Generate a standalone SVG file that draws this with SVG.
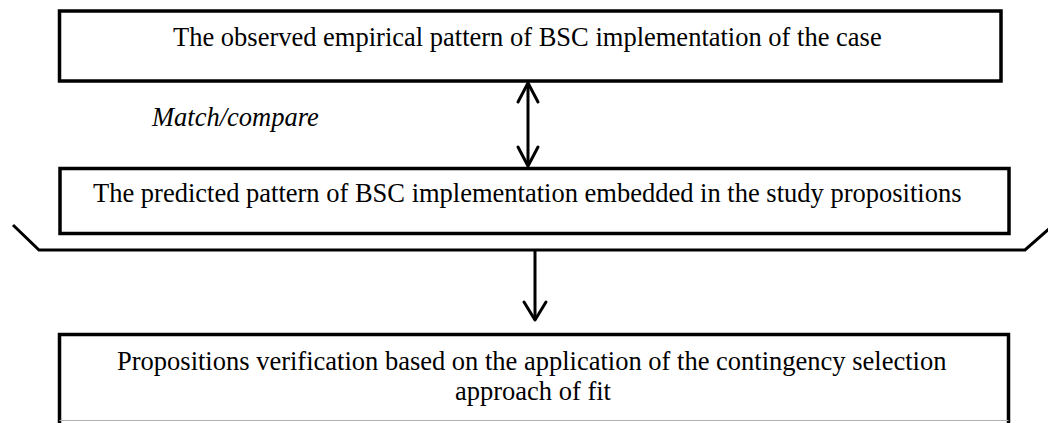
<svg xmlns="http://www.w3.org/2000/svg" width="1048" height="423" viewBox="0 0 1048 423">
  <style>
    .box { fill: #ffffff; stroke: #000000; stroke-width: 3.5; }
    .lbl { font-family: "Liberation Serif", "Times New Roman", serif; font-size: 26.5px; fill: #000000; }
    .note { font-style: italic; }
    .edge { fill: none; stroke: #000000; stroke-width: 3; }
    .head { fill: none; stroke: #000000; stroke-width: 3; stroke-linecap: round; stroke-linejoin: round; }
  </style>
  <rect width="1048" height="423" fill="#ffffff"/>

  <g id="observed">
    <rect class="box" x="59.5" y="11" width="941.5" height="70"/>
    <text class="lbl" x="173" y="46">The observed empirical pattern of BSC implementation of the case</text>
  </g>

  <g id="predicted">
    <rect class="box" x="60" y="168.5" width="949" height="65"/>
    <text class="lbl" x="93" y="202">The predicted pattern of BSC implementation embedded in the study propositions</text>
  </g>

  <g id="verification">
    <path class="box" d="M59.5,434 V334.5 H1008.5 V434"/>
    <line x1="59.5" y1="420.5" x2="1008.5" y2="420.5" stroke="#b0b0b0" stroke-width="1"/>
    <text class="lbl" x="117" y="370">Propositions verification based on the application of the contingency selection</text>
    <text class="lbl" x="455" y="400">approach of fit</text>
  </g>

  <g id="connectors">
    <!-- two-way match between observed and predicted patterns -->
    <line class="edge" x1="528" y1="83" x2="528" y2="166"/>
    <polyline class="head" points="518,102 528,83 538,102"/>
    <polyline class="head" points="518,147 528,166 538,147"/>
    <text class="lbl note" x="152" y="126">Match/compare</text>

    <!-- bracket gathering both patterns -->
    <polyline class="edge" points="13,225 39,250 1025,250 1050,228"/>

    <!-- result flows down to verification -->
    <line class="edge" x1="535" y1="250" x2="535" y2="320"/>
    <polyline class="head" points="524,302 535,320 546,302"/>
  </g>
</svg>
